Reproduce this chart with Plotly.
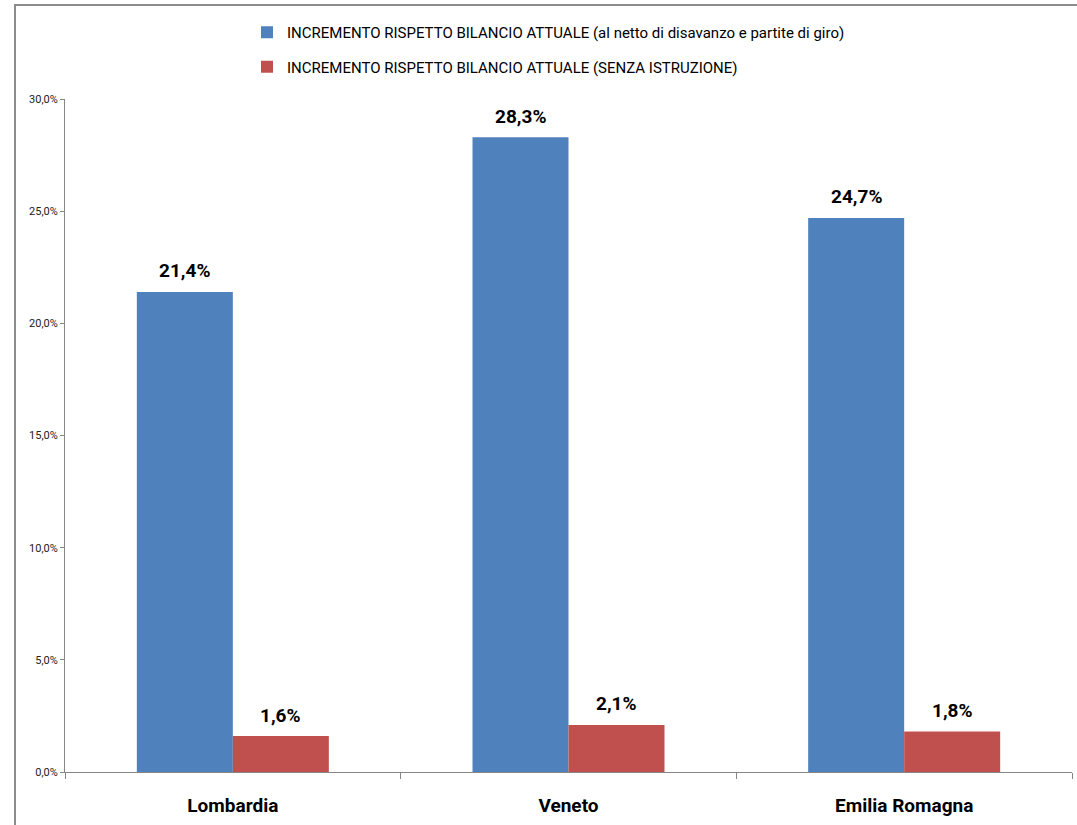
import plotly.graph_objects as go

categories = ["Lombardia", "Veneto", "Emilia Romagna"]
series1_name = "INCREMENTO RISPETTO BILANCIO ATTUALE (al netto di disavanzo e partite di giro)"
series2_name = "INCREMENTO RISPETTO BILANCIO ATTUALE (SENZA ISTRUZIONE)"
series1 = [21.4, 28.3, 24.7]
series2 = [1.6, 2.1, 1.8]
y_ticks = [0, 5, 10, 15, 20, 25, 30]
y_tick_labels = ["0,0%", "5,0%", "10,0%", "15,0%", "20,0%", "25,0%", "30,0%"]

FONT = "Roboto, Arial"
W, H = 1077, 825
ml, mr, mt, mb = 65, 5, 99, 53
pw, ph = W - ml - mr, H - mt - mb

def px_x(x):
    return (x - ml) / pw

def px_y(y):
    return (H - mb - y) / ph

def fmt(v):
    return f"{v:.1f}".replace(".", ",") + "%"

fig = go.Figure()
fig.add_trace(go.Bar(x=categories, y=series1, name=series1_name, legendgroup="a",
                     marker=dict(color="#4F81BD", line=dict(width=0)), offsetgroup="a"))
fig.add_trace(go.Bar(x=categories, y=series2, name=series2_name, legendgroup="b",
                     marker=dict(color="#C0504D", line=dict(width=0)), offsetgroup="b"))

# data labels placed through the axes (category + value)
annotations = []
bar_w = (1 - 0.428) / 2
for i, cat in enumerate(categories):
    for vals, off in ((series1, -bar_w / 2), (series2, bar_w / 2)):
        annotations.append(dict(x=i + off, y=vals[i], xref="x", yref="y",
                                text=fmt(vals[i]), showarrow=False,
                                yanchor="middle", yshift=21,
                                font=dict(family=FONT, size=19, color="#000000", weight="bold")))

fig.update_layout(
    width=W, height=H,
    margin=dict(l=ml, r=mr, t=mt, b=mb, pad=0),
    paper_bgcolor="white", plot_bgcolor="white",
    separators=",.",
    barmode="group", bargap=0.428, bargroupgap=0,
    font=dict(family=FONT, color="#000000"),
    legend=dict(x=px_x(247), y=px_y(16), xanchor="left", yanchor="top",
                orientation="v", tracegroupgap=12, itemwidth=30,
                font=dict(family=FONT, size=15, color="#000000"),
                bgcolor="rgba(0,0,0,0)"),
    xaxis=dict(showline=True, linecolor="#868686", linewidth=1,
               ticks="outside", tickson="boundaries", ticklen=6, tickcolor="#868686",
               ticklabelstandoff=16,
               tickfont=dict(family=FONT, size=19, color="#000000", weight="bold"),
               showgrid=False, zeroline=False, range=[-0.5, 2.5]),
    yaxis=dict(range=[0, 30], tickvals=y_ticks, ticktext=y_tick_labels,
               showline=True, linecolor="#868686", linewidth=1,
               ticks="outside", ticklen=4, tickcolor="#868686",
               tickfont=dict(family=FONT, size=11, color="#222222"),
               showgrid=False, zeroline=False),
    annotations=annotations,
    shapes=[dict(type="rect", xref="paper", yref="paper",
                 x0=px_x(15), x1=px_x(1085), y0=px_y(835), y1=px_y(5),
                 line=dict(color="#8C8C8C", width=2), fillcolor="rgba(0,0,0,0)", layer="below")],
)

fig.write_html("out.html")
